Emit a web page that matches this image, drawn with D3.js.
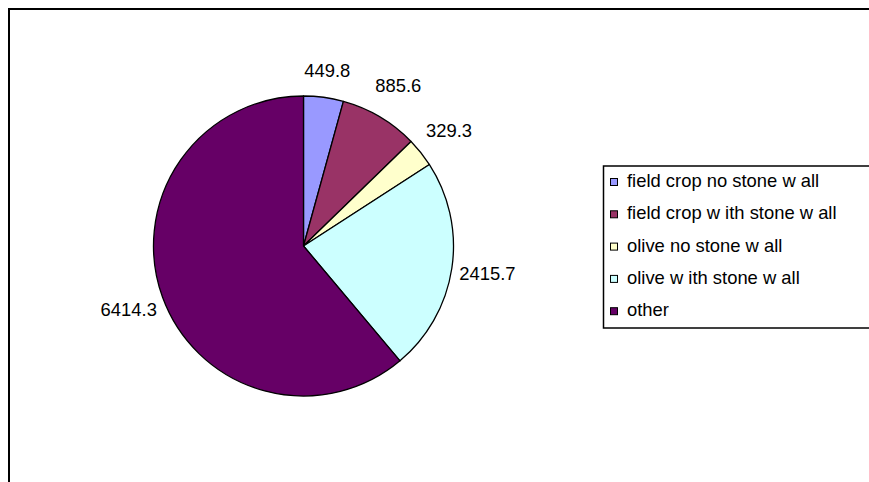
<!DOCTYPE html>
<html>
<head>
<meta charset="utf-8">
<script src="https://cdn.jsdelivr.net/npm/d3@7"></script>
<style>
  html, body { margin: 0; padding: 0; background: #fff; }
  svg { display: block; }
  text { font-family: Arial, "Liberation Sans", sans-serif; fill: #000; }
</style>
</head>
<body>
<svg id="chart" width="869" height="482"></svg>
<script>
// chart data
var categories = ["field crop no stone w all", "field crop w ith stone w all",
                  "olive no stone w all", "olive w ith stone w all", "other"];
var values = [449.8, 885.6, 329.3, 2415.7, 6414.3];
var colors = ["#9999FF", "#993366", "#FFFFCC", "#CCFFFF", "#660066"];

var svg = d3.select("#chart");
var W = 869, H = 482;
var fontSize = 18.4;

// outer frame (only top + left visible, rest runs off the page)
svg.append("rect")
  .attr("x", 9).attr("y", 9)
  .attr("width", W + 20).attr("height", H + 20)
  .attr("fill", "#fff")
  .attr("stroke", "#000")
  .attr("stroke-width", 2);

var cx = 303.5, cy = 246, r = 150;
var color = d3.scaleOrdinal().domain(categories).range(colors);

var pie = d3.pie().sort(null).value(function(d) { return d.value; });
var data = categories.map(function(c, i) { return { name: c, value: values[i] }; });
var arcs = pie(data);
var arc = d3.arc().innerRadius(0).outerRadius(r);

var g = svg.append("g").attr("transform", "translate(" + cx + "," + cy + ")");

g.selectAll("path.slice")
  .data(arcs)
  .enter().append("path")
  .attr("class", "slice")
  .attr("d", arc)
  .attr("fill", function(d) { return color(d.data.name); })
  .attr("stroke", "#000")
  .attr("stroke-width", 1.3)
  .attr("stroke-linejoin", "round");

// value labels outside the pie
g.selectAll("text.val")
  .data(arcs)
  .enter().append("text")
  .attr("class", "val")
  .attr("text-anchor", "middle")
  .attr("dy", "0.35em")
  .style("font-size", fontSize + "px")
  .attr("transform", function(d) {
    var a = (d.startAngle + d.endAngle) / 2;
    var ux = Math.sin(a), uy = -Math.cos(a);
    var R = 174 + 12 * Math.min(1, 2 * Math.abs(ux));
    return "translate(" + (R * ux) + "," + (R * uy) + ")";
  })
  .text(function(d) { return d3.format(".1f")(d.data.value); });

// legend
var legend = svg.append("g").attr("class", "legend");
legend.append("rect")
  .attr("x", 603.5).attr("y", 166)
  .attr("width", 300).attr("height", 162)
  .attr("fill", "#fff")
  .attr("stroke", "#000")
  .attr("stroke-width", 1.5);

var spacing = 32.3;
var keys = legend.selectAll("g.key")
  .data(categories)
  .enter().append("g")
  .attr("class", "key")
  .attr("transform", function(d, i) { return "translate(0," + (187 + i * spacing) + ")"; });

keys.append("rect")
  .attr("x", 610.5).attr("y", -8.5)
  .attr("width", 7).attr("height", 7)
  .attr("fill", color)
  .attr("stroke", "#000")
  .attr("stroke-width", 1);

keys.append("text")
  .attr("x", 627)
  .attr("y", 0)
  .style("font-size", fontSize + "px")
  .text(function(d) { return d; });
</script>
</body>
</html>
